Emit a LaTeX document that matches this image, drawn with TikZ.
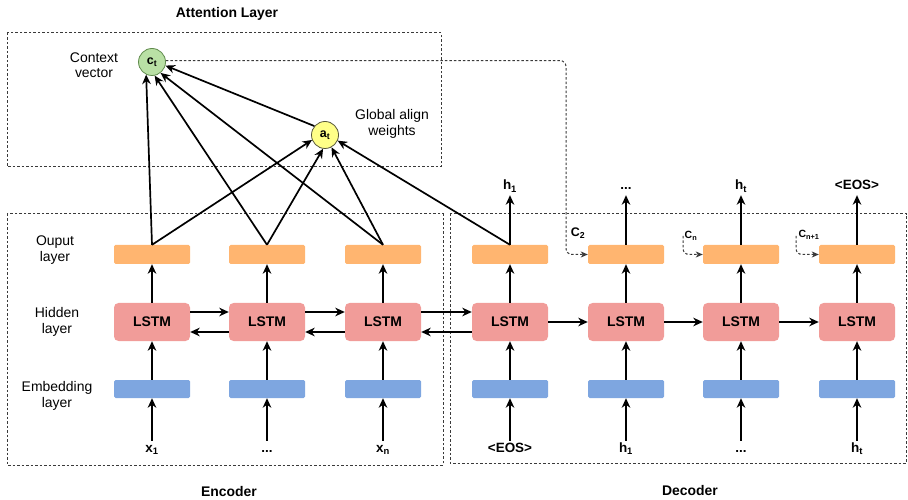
\documentclass[tikz,border=0pt]{standalone}
\usepackage{fontspec}
\setmainfont{Liberation Sans}
\usetikzlibrary{arrows.meta,calc}
\definecolor{orangeL}{HTML}{FFB570}
\definecolor{redL}{HTML}{F19C99}
\definecolor{blueL}{HTML}{7EA6E0}
\definecolor{greenL}{HTML}{B9E0A5}
\definecolor{greenD}{HTML}{5F8A4C}
\definecolor{yellowL}{HTML}{FFFF88}
\definecolor{yellowD}{HTML}{55553A}
\definecolor{dashc}{HTML}{3A3A3A}
\begin{document}
\begin{tikzpicture}[x=1bp,y=-1bp,
  arr/.style={line width=1.7bp, -{Stealth[length=9.5bp,width=8.5bp,inset=3bp]}},
  dsh/.style={line width=1bp, dash pattern=on 2.5bp off 2bp, draw=dashc},
  dsharr/.style={dsh, -{Stealth[length=7bp,width=6bp,inset=2bp]}},
  outbox/.style={fill=orangeL, minimum width=76bp, minimum height=19bp, inner sep=0pt, rounded corners=1.5bp},
  lstmbox/.style={fill=redL, minimum width=76bp, minimum height=38bp, inner sep=0pt, rounded corners=4.5bp, font=\bfseries\fontsize{14}{16}\selectfont},
  embbox/.style={fill=blueL, minimum width=76bp, minimum height=18bp, inner sep=0pt, rounded corners=1.5bp},
  lbl/.style={font=\fontsize{14}{15.5}\selectfont, align=center, inner sep=1bp},
  blbl/.style={font=\bfseries\fontsize{13.5}{15}\selectfont, inner sep=2bp, text height=9bp, text depth=3bp},
  title/.style={font=\bfseries\fontsize{14}{16}\selectfont, inner sep=1bp},
  attc/.style={circle, minimum size=27bp, inner sep=0pt, line width=0.8bp, font=\bfseries\fontsize{12.5}{14}\selectfont},
]
\useasboundingbox (0,0) rectangle (908,500);

% frames
\draw[dsh] (7,33) rectangle (441,167);
\draw[dsh] (7,214) rectangle (443,465);
\draw[dsh] (450,214) rectangle (906.5,463);

% titles
\node[title] (tatt) at (227,14) {Attention Layer};
\node[title] (tenc) at (229,492) {Encoder};
\node[title] (tdec) at (690,491) {Decoder};

% row labels
\node[lbl] (rout) at (55,250) {Ouput\\layer};
\node[lbl] (rhid) at (57,322) {Hidden\\layer};
\node[lbl] (remb) at (57,396) {Embedding\\layer};

% columns
\foreach \i/\x in {1/152,2/267,3/383,4/510,5/626,6/741,7/857} {
  \node[outbox] (o\i) at (\x,254.5) {};
  \node[lstmbox] (l\i) at (\x,322) {LSTM};
  \node[embbox] (e\i) at (\x,389) {};
  \draw[arr] (l\i) -- (o\i);
  \draw[arr] (e\i) -- (l\i);
}

% inputs
\foreach \i/\x/\t in {1/152/{x\textsubscript{1}},2/267/{...},3/383/{x\textsubscript{n}},4/510/{<EOS>},5/626/{h\textsubscript{1}},6/741/{...},7/857/{h\textsubscript{t}}} {
  \node[blbl] (in\i) at (\x,449) {\t};
  \draw[arr] (in\i.north) -- (e\i.south);
}

% decoder outputs
\foreach \i/\x/\t in {4/510/{h\textsubscript{1}},5/626/{...},6/741/{h\textsubscript{t}},7/857/{<EOS>}} {
  \node[blbl] (t\i) at (\x,187) {\t};
  \draw[arr] (o\i.north) -- (t\i.south);
}

% encoder recurrent links
\foreach \a/\b in {1/2,2/3,3/4} {
  \draw[arr] ([yshift=10bp]l\a.east) -- ([yshift=10bp]l\b.west);
  \draw[arr] ([yshift=-10bp]l\b.west) -- ([yshift=-10bp]l\a.east);
}
% decoder recurrent links
\foreach \a/\b in {4/5,5/6,6/7} {
  \draw[arr] (l\a.east) -- (l\b.west);
}

% attention nodes
\node[attc, fill=greenL, draw=greenD] (ct) at (152,62) {c\textsubscript{t}};
\node[attc, fill=yellowL, draw=yellowD] (at) at (325,135) {a\textsubscript{t}};
\node[lbl] (lct) at (94,65) {Context\\vector};
\node[lbl] (lat) at (392,124) {Global align\\weights};

% attention connectors
\draw[arr] (o1.north) -- (ct.245);
\draw[arr] (o2.north) -- (ct.281);
\draw[arr] (o3.north) -- (ct.308);
\draw[arr] (at.140) -- (ct.345);
\draw[arr] (o1.north) -- (at.201);
\draw[arr] (o2.north) -- (at.262);
\draw[arr] (o3.north) -- (at.298);
\draw[arr] (o4.north) -- (at.336);

% context feeds
\coordinate (c2c) at (566,254.5);
\draw[dsharr, rounded corners=6bp] (ct.6) -| (c2c) -- (o5.west);
\node[font=\bfseries\fontsize{12.5}{14}\selectfont, inner sep=1bp] (c2) at (578,233) {C\textsubscript{2}};

\coordinate (cns) at (683,236);
\draw[dsharr, rounded corners=6bp] (cns) |- (o6.west);
\node[font=\bfseries\fontsize{10.5}{12}\selectfont, inner sep=1bp] (cn) at (691,236) {C\textsubscript{n}};

\coordinate (cn1s) at (796,236);
\draw[dsharr, rounded corners=6bp] (cn1s) |- (o7.west);
\node[font=\bfseries\fontsize{10.5}{12}\selectfont, inner sep=1bp] (cn1) at (809,235) {C\textsubscript{n+1}};
\end{tikzpicture}
\end{document}
